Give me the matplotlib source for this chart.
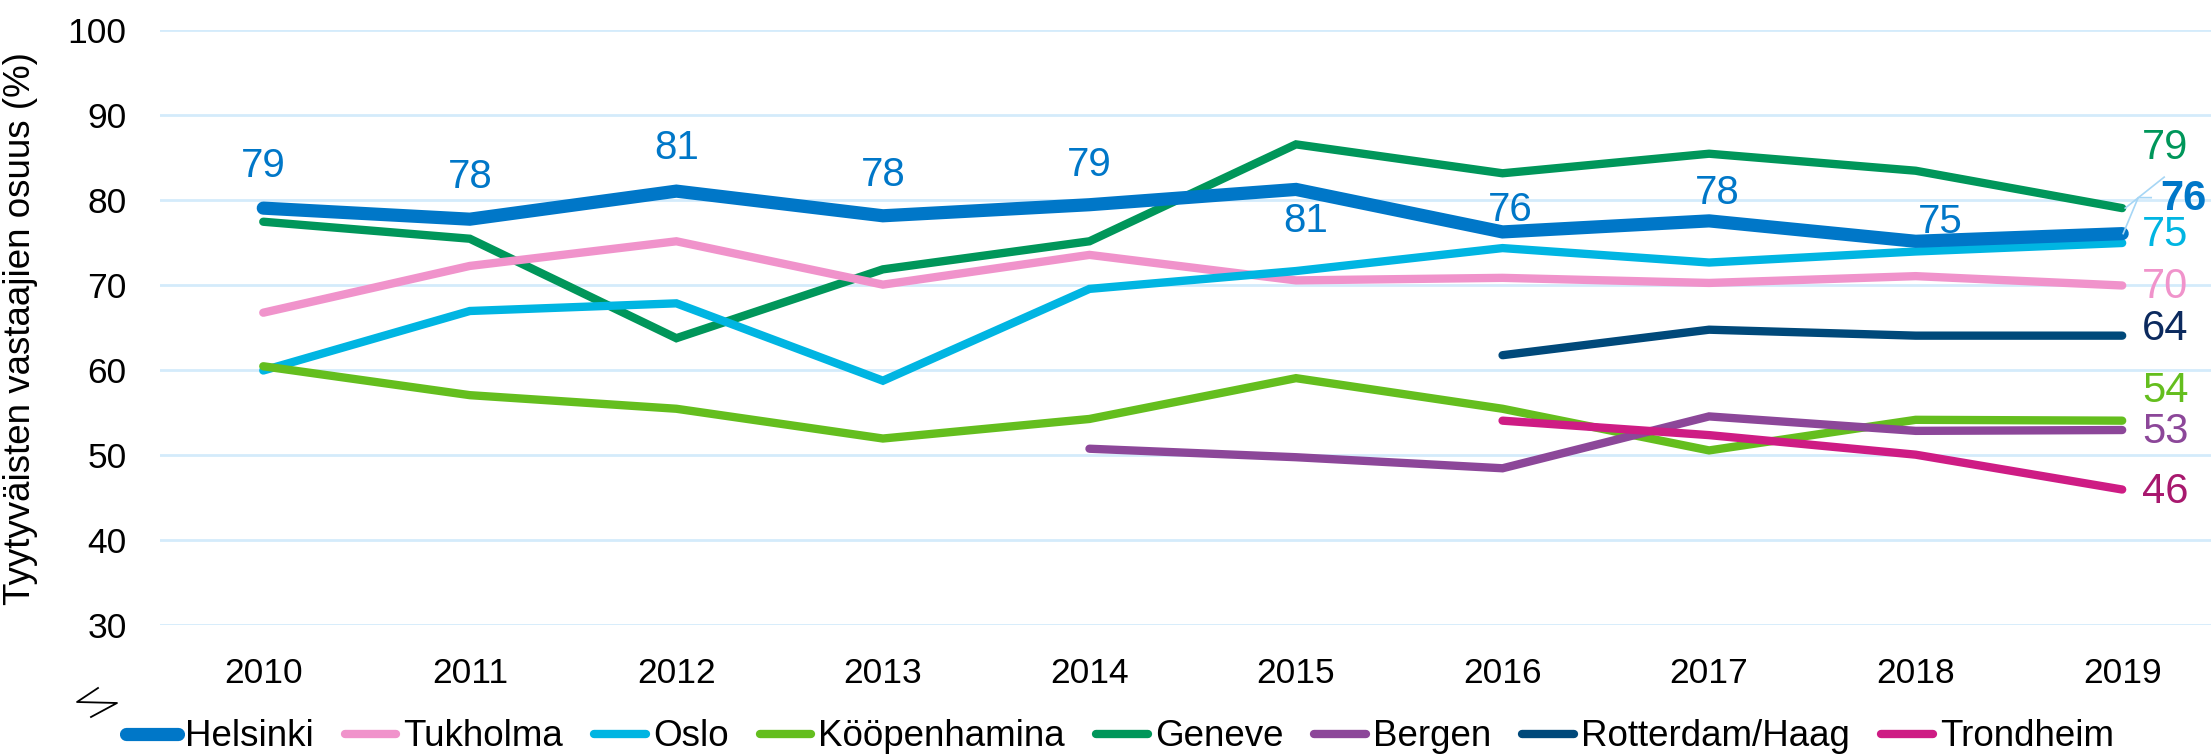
import numpy as np
import matplotlib
matplotlib.use("Agg")
import matplotlib.pyplot as plt
from matplotlib.lines import Line2D
from matplotlib.transforms import IdentityTransform

plt.rcParams['font.family'] = ['Liberation Sans', 'DejaVu Sans']

# data
years = [2010, 2011, 2012, 2013, 2014, 2015, 2016, 2017, 2018, 2019]
nan = np.nan
helsinki = [79.0, 77.7, 81.0, 78.1, 79.4, 81.2, 76.2, 77.5, 75.1, 76.0]
tukholma = [66.7, 72.2, 75.1, 70.0, 73.5, 70.5, 70.8, 70.2, 71.0, 69.9]
oslo = [59.9, 66.9, 67.8, 58.7, 69.5, 71.6, 74.3, 72.6, 73.9, 74.9]
kopenhamina = [60.4, 57.0, 55.4, 51.9, 54.2, 59.0, 55.4, 50.5, 54.1, 54.0]
geneve = [77.4, 75.4, 63.7, 71.8, 75.1, 86.5, 83.1, 85.4, 83.4, 79.0]
bergen = [nan, nan, nan, nan, 50.7, 49.7, 48.4, 54.5, 52.8, 52.9]
rotterdam = [nan, nan, nan, nan, nan, nan, 61.7, 64.7, 64.0, 64.0]
trondheim = [nan, nan, nan, nan, nan, nan, 54.0, 52.3, 50.0, 45.9]

names = ['Helsinki', 'Tukholma', 'Oslo', 'Kööpenhamina', 'Geneve', 'Bergen',
         'Rotterdam/Haag', 'Trondheim']
series = [helsinki, tukholma, oslo, kopenhamina, geneve, bergen, rotterdam, trondheim]
colors = ['#0077C8', '#F093CB', '#00B5E2', '#64BE1E', '#00965A', '#8C4799', '#00497A', '#CE1C84']
label_colors = ['#0077C8', '#F093CB', '#00B5E2', '#64BE1E', '#00965A', '#8C4799', '#0C2A5E', '#A8186E']
widths = [9.5, 6, 6, 6, 6, 6, 6, 6]

W, H, DPI = 2211, 755, 100
fig = plt.figure(figsize=(W / DPI, H / DPI), dpi=DPI)
ax = fig.add_axes([160 / W, 1 - 624.7 / H, (W - 160) / W, (624.7 - 29.6) / H])

# Helsinki drawn on top
order = [4, 1, 2, 3, 5, 6, 7, 0]
for i in order:
    ax.plot(years, series[i], color=colors[i], lw=widths[i], solid_capstyle='round',
            solid_joinstyle='miter', label=names[i], zorder=3 if i else 4)

ax.set_xlim(2009.5, 2019.43)
ax.set_ylim(30, 100)
ax.set_yticks(range(30, 101, 10))
ax.set_xticks(years)
ax.grid(axis='y', color='#D4EBFB', lw=2, zorder=0)
ax.set_axisbelow(True)
for s in ax.spines.values():
    s.set_visible(False)
ax.tick_params(length=0, labelsize=25.5, colors='black')
ax.tick_params(axis='y', pad=24)
ax.tick_params(axis='x', pad=23)
ax.set_ylabel('Tyytyväisten vastaajien osuus (%)', fontsize=26.5)
ax.yaxis.set_label_coords(-0.0595, 0.497)

# Helsinki data labels (offsets in pixels)
lab_dx = [0, 0, 0, 0, 0, 10, 8, 8, 25]
lab_dy = [42, 42, 43, 41, 40, -32, 22, 28, 19]
for k in range(9):
    ax.annotate(f"{round(helsinki[k])}", (years[k], helsinki[k]),
                xytext=(lab_dx[k], lab_dy[k]), textcoords='offset pixels',
                ha='center', va='center', fontsize=29, color=colors[0], zorder=5)

# end-of-line labels
end_dx = [38, 20, 20, 20, 20, 20, 20, 20]
end_dy = [35, -2, 8, 30, 60, -2, 7, -2]
for i in range(8):
    v = series[i][-1]
    ax.annotate(f"{round(v)}", (years[-1], v), xytext=(end_dx[i], end_dy[i]),
                textcoords='offset pixels', ha='left', va='center', fontsize=30,
                color=label_colors[i], fontweight='bold' if i == 0 else 'normal', zorder=5)

# leader lines
fig.canvas.draw()
leader_col = '#A6D6F5'
px, py = ax.transData.transform((years[-1], helsinki[-1]))
fig.add_artist(Line2D([px + 1, px + 16, px + 29], [py, py + 36, py + 36], color=leader_col,
                      lw=1.2, transform=IdentityTransform(), zorder=6))
gx, gy = ax.transData.transform((years[-1], geneve[-1]))
fig.add_artist(Line2D([gx + 3, gx + 42], [gy, gy + 31], color=leader_col,
                      lw=1.2, transform=IdentityTransform(), zorder=6))

# axis break mark
fig.add_artist(Line2D([98 / W, 77 / W, 117 / W, 91 / W],
                      [1 - 688 / H, 1 - 702 / H, 1 - 703 / H, 1 - 717 / H],
                      color='black', lw=1.3, transform=fig.transFigure))

handles, labels = ax.get_legend_handles_labels()
lookup = dict(zip(labels, handles))
fig.legend([lookup[n] for n in names], names, loc='center left',
           bbox_to_anchor=(126 / W, 1 - 737 / H), ncol=8, frameon=False,
           fontsize=26.5, handlelength=1.41, handletextpad=0.19, columnspacing=0.84,
           borderpad=0, borderaxespad=0)

fig.savefig('out.png', dpi=DPI)
